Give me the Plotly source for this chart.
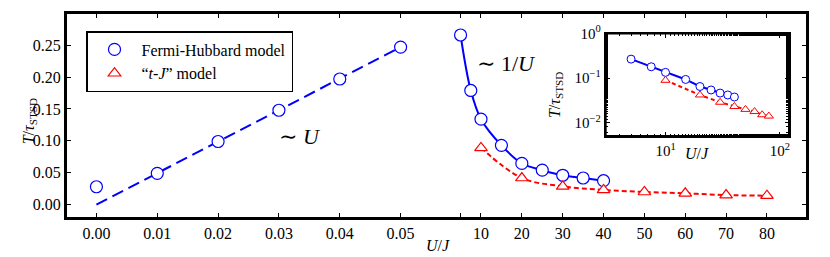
import plotly.graph_objects as go

# ---- data ----
u_small = [0.0, 0.01, 0.02, 0.03, 0.04, 0.05]
t_small = [0.028, 0.049, 0.099, 0.148, 0.197, 0.247]
fit_small_u = [0.0, 0.05]
fit_small_t = [0.0, 0.247]

u_fh = [5, 7.5, 10, 15, 20, 25, 30, 35, 40]
t_fh = [0.266, 0.179, 0.134, 0.093, 0.0646, 0.054, 0.046, 0.0417, 0.0375]

u_tj = [10, 20, 30, 40, 50, 60, 70, 80]
t_tj = [0.089, 0.0417, 0.0286, 0.023, 0.0198, 0.0177, 0.015, 0.014]

left_ticks = [0.0, 0.01, 0.02, 0.03, 0.04, 0.05]
left_ticktext = ["0.00", "0.01", "0.02", "0.03", "0.04", "0.05"]
right_ticks = [5, 10, 20, 30, 40, 50, 60, 70, 80]
right_ticktext = ["", "10", "20", "30", "40", "50", "60", "70", "80"]
y_ticks = [0.0, 0.05, 0.10, 0.15, 0.20, 0.25]
y_ticktext = ["0.00", "0.05", "0.10", "0.15", "0.20", "0.25"]
inset_xticks = [10, 100]
inset_xticktext = ["10<sup>1</sup>", "10<sup>2</sup>"]
inset_yticks = [0.01, 0.1, 1]
inset_yticktext = ["10<sup>\u22122</sup>", "10<sup>\u22121</sup>", "10<sup>0</sup>"]

BLUE = "#0000ff"
RED = "#ff0000"
FONT = "Liberation Serif, DejaVu Serif, serif"

fig = go.Figure()

# left panel
fig.add_trace(go.Scatter(x=fit_small_u, y=fit_small_t, mode="lines",
                         line=dict(color=BLUE, width=2, dash="12px,6px"),
                         showlegend=False, xaxis="x", yaxis="y"))
fig.add_trace(go.Scatter(x=u_small, y=t_small, mode="markers",
                         marker=dict(symbol="circle", size=12, color="white",
                                     line=dict(color=BLUE, width=1.2)),
                         name="Fermi-Hubbard model", xaxis="x", yaxis="y"))

# right panel
fig.add_trace(go.Scatter(x=u_fh, y=t_fh, mode="lines",
                         line=dict(color=BLUE, width=2, shape="spline"),
                         showlegend=False, xaxis="x2", yaxis="y2"))
fig.add_trace(go.Scatter(x=u_tj, y=t_tj, mode="lines",
                         line=dict(color=RED, width=2, dash="5px,3px", shape="spline"),
                         showlegend=False, xaxis="x2", yaxis="y2"))
fig.add_trace(go.Scatter(x=u_fh, y=t_fh, mode="markers",
                         marker=dict(symbol="circle", size=12, color="white",
                                     line=dict(color=BLUE, width=1.2)),
                         showlegend=False, xaxis="x2", yaxis="y2"))
fig.add_trace(go.Scatter(x=u_tj, y=t_tj, mode="markers",
                         marker=dict(symbol="triangle-up", size=11, color="white",
                                     line=dict(color=RED, width=1.2)),
                         name="\u201c<i>t</i>-<i>J</i>\u201d model", xaxis="x2", yaxis="y2"))

# inset
fig.add_trace(go.Scatter(x=u_fh, y=t_fh, mode="lines+markers",
                         line=dict(color=BLUE, width=2),
                         marker=dict(symbol="circle", size=8, color="white",
                                     line=dict(color=BLUE, width=1)),
                         showlegend=False, xaxis="x3", yaxis="y3"))
fig.add_trace(go.Scatter(x=u_tj, y=t_tj, mode="lines+markers",
                         line=dict(color=RED, width=2, dash="4px,3px"),
                         marker=dict(symbol="triangle-up", size=8, color="white",
                                     line=dict(color=RED, width=1)),
                         showlegend=False, xaxis="x3", yaxis="y3"))

axcommon = dict(showgrid=False, zeroline=False, showline=True, linecolor="black",
                linewidth=2, mirror=True,
                ticks="inside", ticklen=5, tickcolor="black", tickwidth=1,
                automargin=False,
                tickfont=dict(family=FONT, size=16, color="black"))
insetax = {**axcommon, "ticklen": 4, "tickfont": dict(family=FONT, size=15, color="black")}

# page body has an 8px margin: shrink the figure so the plot area lands where it should
fig.update_layout(
    width=822, height=249,
    margin=dict(l=58, r=23, t=5, b=39),
    paper_bgcolor="white", plot_bgcolor="white",
    font=dict(family=FONT, size=16, color="black"),
    xaxis=dict(domain=[0, 0.5], range=[-0.005, 0.0559], tickvals=left_ticks,
               ticktext=left_ticktext, anchor="y", **{**axcommon, "mirror": "ticks"}),
    xaxis2=dict(domain=[0.5, 1], range=[-0.89, 89.8], tickvals=right_ticks,
                ticktext=right_ticktext, anchor="y2", **{**axcommon, "mirror": "ticks"}),
    yaxis=dict(domain=[0, 1], range=[-0.021, 0.3005], tickvals=y_ticks,
               ticktext=y_ticktext, anchor="x", **{**axcommon, "mirror": False}),
    yaxis2=dict(domain=[0, 1], range=[-0.021, 0.3005], tickvals=y_ticks,
                showticklabels=False, side="right", anchor="x2",
                **{**axcommon, "mirror": False}),
    xaxis3=dict(domain=[0.7283, 0.9757], type="log", range=[0.4771, 2.0792],
                tickvals=inset_xticks, ticktext=inset_xticktext,
                anchor="y3", minor=dict(ticks="inside", ticklen=2.5, tickcolor="black"),
                **{**insetax, "mirror": "ticks"}),
    yaxis3=dict(domain=[0.4, 0.9], type="log", range=[-2.301, 0],
                tickvals=inset_yticks, ticktext=inset_yticktext,
                anchor="x3", minor=dict(ticks="inside", ticklen=2.5, tickcolor="black"),
                **{**insetax, "mirror": "ticks"}),
    legend=dict(x=0.027, y=0.912, xanchor="left", yanchor="top",
                bordercolor="black", borderwidth=1.5, bgcolor="white",
                font=dict(family=FONT, size=16, color="black"),
                itemwidth=44, tracegroupgap=0),
    showlegend=True,
)

# frames (drawn explicitly as well)
fig.add_shape(type="rect", xref="paper", yref="paper", x0=0, x1=1, y0=0, y1=1,
              line=dict(color="black", width=2), fillcolor="rgba(0,0,0,0)", layer="above")
fig.add_shape(type="rect", xref="x3 domain", yref="y3 domain", x0=0, x1=1, y0=0, y1=1,
              line=dict(color="black", width=2), fillcolor="rgba(0,0,0,0)", layer="above")

ann = dict(showarrow=False, font=dict(family=FONT, size=16, color="black"))
fig.add_annotation(x=0.502, y=-0.132, xref="paper", yref="paper", text="<i>U</i>/<i>J</i>",
                   xanchor="center", yanchor="middle", **ann)
fig.add_annotation(x=-0.049, y=0.47, xref="paper", yref="paper",
                   text="<i>T</i>/<i>\u03c4</i><sub>STSD</sub>", textangle=-90,
                   xanchor="center", yanchor="middle", **ann)
fig.add_annotation(x=0.8516, y=0.317, xref="paper", yref="paper", text="<i>U</i>/<i>J</i>",
                   xanchor="center", yanchor="middle", **ann)
fig.add_annotation(x=0.66, y=0.60, xref="paper", yref="paper",
                   text="<i>T</i>/<i>\u03c4</i><sub>STSD</sub>", textangle=-90,
                   xanchor="center", yanchor="middle", **ann)
big = dict(showarrow=False, font=dict(family=FONT, size=22, color="black"))
fig.add_annotation(x=0.0334, y=0.107, xref="x", yref="y", text="\u223c <i>U</i>",
                   xanchor="center", yanchor="middle", **big)
fig.add_annotation(x=16.3, y=0.221, xref="x2", yref="y2", text="\u223c 1/<i>U</i>",
                   xanchor="center", yanchor="middle", **big)

fig.write_html("out.html")
